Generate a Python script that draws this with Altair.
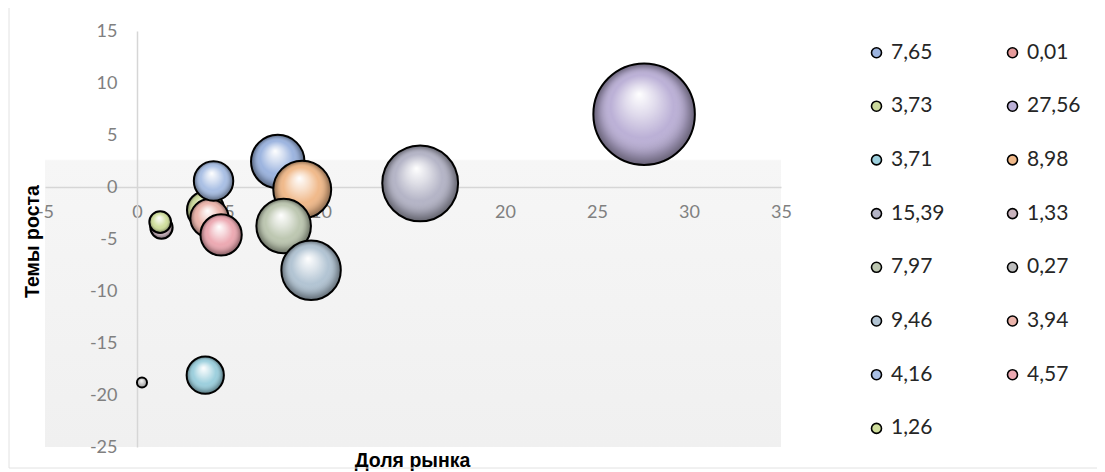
import altair as alt
import pandas as pd

# Series (Excel series order)
labels = ["7,65", "0,01", "3,73", "27,56", "3,71", "8,98", "15,39", "1,33",
          "7,97", "0,27", "9,46", "3,94", "4,16", "4,57", "1,26"]
share = [7.65, 0.01, 3.73, 27.56, 3.71, 8.98, 15.39, 1.33,
         7.97, 0.27, 9.46, 3.94, 4.16, 4.57, 1.26]
growth = [2.45, None, -2.2, 7.0, -18.1, -0.25, 0.35, -3.9,
          -3.75, -18.8, -8.0, -3.0, 0.58, -4.6, -3.37]
colors = ["#9cb4df", "#e59a9a", "#cbd99c", "#bbb0d6", "#9ccfdd", "#f0b98a",
          "#b4b4c6", "#c9b3bd", "#bdc7b1", "#bdbdbd", "#b2c4d3", "#ebb4ab",
          "#a9bfe4", "#eca9b2", "#d0df9d"]
x_ticks = [-5, 0, 5, 10, 15, 20, 25, 30, 35]
y_ticks = [-25, -20, -15, -10, -5, 0, 5, 10, 15]

df = pd.DataFrame({"idx": list(range(len(labels))), "label": labels,
                   "share": share, "growth": growth})

# legend is filled column by column; reference reads row by row
legend_order = labels[0::2] + labels[1::2]
color_of = dict(zip(labels, colors))
legend_colors = [color_of[l] for l in legend_order]

W, H = 736, 416
hyphen = "datum.value < 0 ? '-' + abs(datum.value) : '' + datum.value"

xscale = alt.Scale(domain=[-5, 35], nice=False, zero=False)
yscale = alt.Scale(domain=[-25, 15], nice=False, zero=False)
sscale = alt.Scale(domain=[0, max(share)], range=[0, 10300])
cscale = alt.Scale(domain=legend_order, range=legend_colors)

x_enc = alt.X("share:Q", scale=xscale, axis=alt.Axis(
    values=x_ticks, offset=-260, grid=False, ticks=False, tickSize=0,
    labelPadding=16, labelFlush=False, labelOverlap=False, labelExpr=hyphen,
    domainColor="#d6d6d6", domainWidth=1.5,
    labelColor="#808080", labelFont="Lato", labelFontSize=18,
    title="Доля рынка", titleFont="Liberation Sans", titleFontSize=19.5,
    titleFontWeight="bold", titleColor="black",
    titleX=367, titleY=279, titleBaseline="alphabetic"))

y_enc = alt.Y("growth:Q", scale=yscale, axis=alt.Axis(
    values=y_ticks, offset=-92, grid=False, ticks=False, tickSize=0,
    labelPadding=20, labelFlush=False, labelOverlap=False, labelExpr=hyphen,
    domainColor="#d6d6d6", domainWidth=1.5,
    labelColor="#808080", labelFont="Lato", labelFontSize=18,
    title="Темы роста", titleFont="Liberation Sans", titleFontSize=19.5,
    titleFontWeight="bold", titleColor="black",
    titleX=-99, titleY=210, titleBaseline="alphabetic", titleAngle=-90))

size_enc = alt.Size("share:Q", scale=sscale, legend=None)

color_enc = alt.Color("label:N", scale=cscale, sort=legend_order, legend=alt.Legend(
    title=None, orient="none", legendX=821, legendY=11, columns=2,
    columnPadding=57, rowPadding=31.7, symbolType="circle", symbolSize=100,
    symbolStrokeColor="black", symbolStrokeWidth=1.6, symbolOpacity=1,
    labelFont="Lato", labelFontSize=21, labelColor="#262626", labelOffset=4,
    padding=0))

sphere = alt.RadialGradient(
    gradient="radial", x1=0.45, y1=0.3, r1=0.0, x2=0.5, y2=0.5, r2=0.5,
    stops=[alt.GradientStop(offset=0.0, color="rgba(255,255,255,1)"),
           alt.GradientStop(offset=0.3, color="rgba(255,255,255,0.55)"),
           alt.GradientStop(offset=0.62, color="rgba(255,255,255,0)"),
           alt.GradientStop(offset=0.85, color="rgba(0,0,0,0.18)"),
           alt.GradientStop(offset=1.0, color="rgba(0,0,0,0.45)")])

# plot-area background: white top, light grey gradient below
view_fill = alt.ExprRef(expr=(
    "{gradient:'linear', x1:0, y1:0, x2:0, y2:1, stops:["
    "{offset:0, color:'#ffffff'}, {offset:0.308, color:'#ffffff'},"
    "{offset:0.312, color:'#f6f6f6'}, {offset:1, color:'#f0f0f0'}]}"))

one = alt.Data(values=[{"a": 1}])

border = alt.Chart(one).mark_rect(fillOpacity=0, stroke="#e2e2e2", strokeWidth=1).encode(
    x=alt.value(-36), x2=alt.value(1055), y=alt.value(-25), y2=alt.value(437))

layers = [border]
for i in range(len(labels)):
    base = alt.Chart(df).transform_filter(alt.datum.idx == i).mark_circle(
        opacity=1, stroke="black", strokeWidth=2).encode(
        x=x_enc, y=y_enc, size=size_enc, color=color_enc)
    shine = alt.Chart(df).transform_filter(alt.datum.idx == i).mark_circle(
        opacity=1, fill=sphere, strokeWidth=0).encode(
        x=x_enc, y=y_enc, size=size_enc)
    layers += [base, shine]

chart = alt.layer(*layers).properties(
    width=W, height=H,
    autosize=alt.AutoSizeParams(type="none"),
    padding={"left": 37, "top": 23, "right": 316, "bottom": 25},
    background="white",
).configure_view(stroke=None, fill=view_fill)

chart.save("out.html", embed_options={"renderer": "svg", "actions": False})
